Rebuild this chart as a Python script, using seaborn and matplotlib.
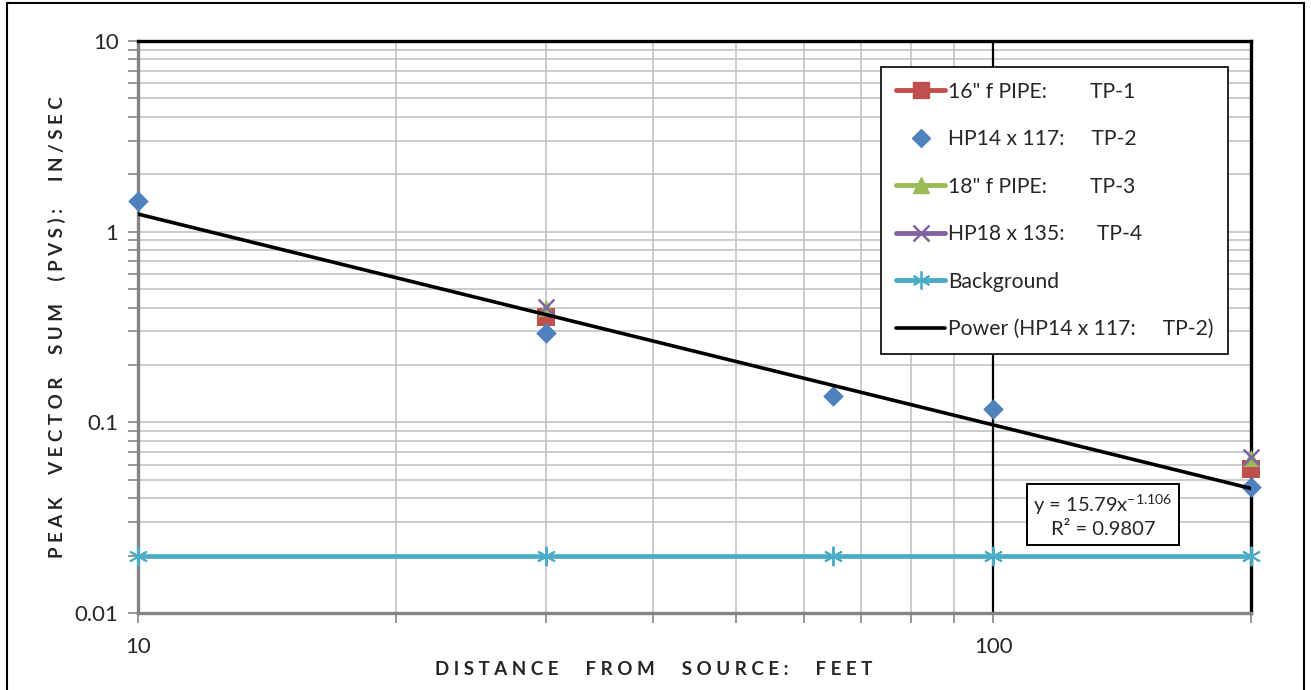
import matplotlib
matplotlib.use('Agg')
import matplotlib.pyplot as plt
from matplotlib.lines import Line2D
from matplotlib.patches import Rectangle
from matplotlib.ticker import LogLocator, NullFormatter, FixedLocator, FixedFormatter
import seaborn as sns

# --- data ---
tp1_x = [30, 200]
tp1_y = [0.355, 0.057]
tp2_x = [10, 30, 65, 100, 200]
tp2_y = [1.45, 0.295, 0.138, 0.118, 0.046]
tp3_x = [30, 200]
tp3_y = [0.40, 0.065]
tp4_x = [30, 200]
tp4_y = [0.405, 0.066]
bg_x = [10, 30, 65, 100, 200]
bg_y = [0.02, 0.02, 0.02, 0.02, 0.02]
trend_x = [10, 200]
trend_y = [1.237, 0.045]

labels = ['16" f PIPE:        TP-1', 'HP14 x 117:     TP-2', '18" f PIPE:        TP-3',
          'HP18 x 135:      TP-4', 'Background', 'Power (HP14 x 117:     TP-2)']
fit_text = 'y = 15.79x$^{-1.106}$\nR² = 0.9807'
x_ticks = [10, 100]
y_ticks = [0.01, 0.1, 1, 10]
y_ticklabels = ['0.01', '0.1', '1', '10']

RED, BLUE, GREEN, PURPLE, CYAN = '#C0504D', '#4F81BD', '#9BBB59', '#8064A2', '#4BACC6'
GRID = '#BFBFBF'
AXGREY = '#858585'

sns.set_theme(style='white')
plt.rcParams['font.family'] = ['Lato', 'DejaVu Sans']
plt.rcParams['mathtext.fontset'] = 'custom'
plt.rcParams['mathtext.rm'] = 'Lato'
plt.rcParams['mathtext.default'] = 'regular'

fig = plt.figure(figsize=(13.11, 6.9), dpi=100)
ax = fig.add_axes([138 / 1311, 1 - 613 / 690, (1251 - 138) / 1311, (613 - 41) / 690])
ax.set_xscale('log')
ax.set_yscale('log')
ax.set_xlim(10, 200)
ax.set_ylim(0.01, 10)

# grid
ax.yaxis.set_minor_locator(LogLocator(base=10, subs=range(2, 10)))
ax.xaxis.set_minor_locator(LogLocator(base=10, subs=range(2, 10)))
ax.xaxis.set_minor_formatter(NullFormatter())
ax.yaxis.set_minor_formatter(NullFormatter())
ax.grid(True, which='both', axis='y', color=GRID, lw=1.1)
ax.grid(True, which='minor', axis='x', color=GRID, lw=1.1)
ax.axvline(100, color='black', lw=1.6, zorder=1)
ax.set_axisbelow(True)

# series
sns.scatterplot(x=tp1_x, y=tp1_y, marker='s', s=150, color=RED, edgecolor=RED, linewidth=0,
                ax=ax, zorder=3, clip_on=False)
sns.scatterplot(x=tp2_x, y=tp2_y, marker='D', s=110, color=BLUE, edgecolor=BLUE, linewidth=0,
                ax=ax, zorder=4, clip_on=False)
sns.scatterplot(x=tp3_x, y=tp3_y, marker='^', s=150, color=GREEN, edgecolor=GREEN, linewidth=0,
                ax=ax, zorder=5, clip_on=False)
sns.scatterplot(x=tp4_x, y=tp4_y, marker='x', s=130, color=PURPLE, linewidth=1.8,
                ax=ax, zorder=6, clip_on=False)
sns.lineplot(x=bg_x, y=bg_y, color=CYAN, lw=3.4, marker=(6, 2, 0), markersize=14,
             markeredgewidth=1.4, markeredgecolor=CYAN, ax=ax, zorder=6, clip_on=False)
sns.lineplot(x=trend_x, y=trend_y, color='black', lw=2.6, ax=ax, zorder=7)

# ticks
ax.xaxis.set_major_locator(FixedLocator(x_ticks))
ax.xaxis.set_major_formatter(FixedFormatter([str(v) for v in x_ticks]))
ax.yaxis.set_major_locator(FixedLocator(y_ticks))
ax.yaxis.set_major_formatter(FixedFormatter(y_ticklabels))
ax.tick_params(which='both', direction='out', color=AXGREY, width=1.2, bottom=True, left=True)
ax.tick_params(which='major', length=7, pad=7, labelsize=16)
ax.tick_params(which='minor', length=7)
ax.tick_params(axis='x', which='major', pad=10)
for lbl in ax.get_xticklabels() + ax.get_yticklabels():
    lbl.set_fontsize(16)

for side in ['top', 'right']:
    ax.spines[side].set_color('black')
    ax.spines[side].set_linewidth(2.4)
for side in ['left', 'bottom']:
    ax.spines[side].set_color(AXGREY)
    ax.spines[side].set_linewidth(2.4)

ax.set_xlabel('D I S T A N C E      F R O M      S O U R C E :      F E E T', fontsize=13.5,
              fontweight='bold')
ax.set_ylabel('P E A K     V E C T O R     S U M     ( P V S ) :      I N / S E C', fontsize=13.5,
              fontweight='bold')
ax.xaxis.set_label_coords((654 - 138) / 1113, -0.084)
ax.yaxis.set_label_coords((66 - 138) / 1113, 0.5)

# fit annotation
ax.text(0.867, 0.170, fit_text, transform=ax.transAxes, ha='center', va='center',
        fontsize=14.5, linespacing=1.3, zorder=8,
        bbox=dict(boxstyle='square,pad=0.33', fc='white', ec='black', lw=1.4))

# legend
handles = [
    Line2D([], [], color=RED, lw=3.5, marker='s', markersize=11),
    Line2D([], [], color=BLUE, lw=0, marker='D', markersize=9),
    Line2D([], [], color=GREEN, lw=3.5, marker='^', markersize=12),
    Line2D([], [], color=PURPLE, lw=3.5, marker='x', markersize=11, markeredgewidth=1.8),
    Line2D([], [], color=CYAN, lw=3.5, marker=(6, 2, 0), markersize=13, markeredgewidth=1.3),
    Line2D([], [], color='black', lw=2.6),
]
leg = ax.legend(handles, labels, loc='upper left', bbox_to_anchor=(0.668, 0.9545),
                fontsize=15.2, labelspacing=1.3, handlelength=2.3, handletextpad=0.15,
                borderpad=0.7, borderaxespad=0, fancybox=False, framealpha=1, edgecolor='black')
leg.get_frame().set_linewidth(1.2)
leg.set_zorder(10)

# outer chart border
fig.patches.append(Rectangle((7 / 1311, -0.01), 1297 / 1311, 1.0057, transform=fig.transFigure,
                             fill=False, ec='black', lw=1.5))

fig.savefig('out.png', dpi=100)
